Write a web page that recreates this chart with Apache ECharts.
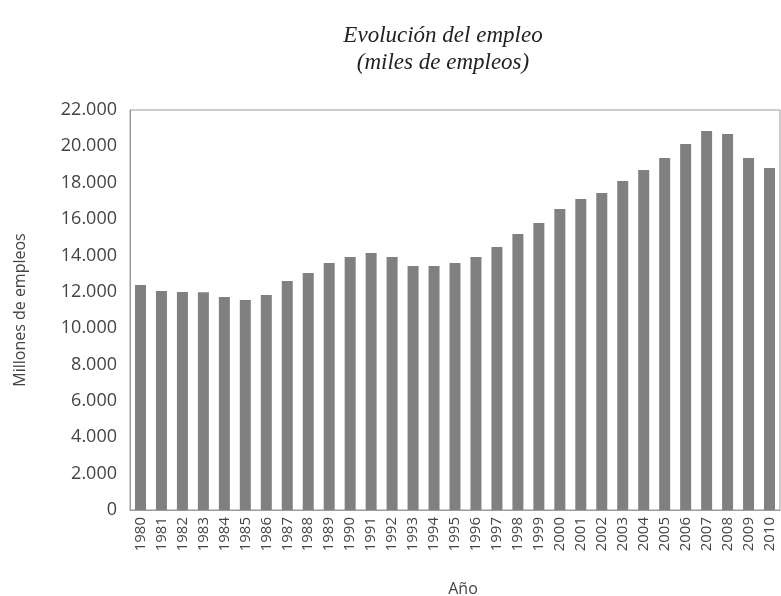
<!DOCTYPE html>
<html><head><meta charset="utf-8">
<script src="https://cdn.jsdelivr.net/npm/echarts@6/dist/echarts.min.js"></script>
<style>html,body{margin:0;padding:0;background:#fff}#c{width:781px;height:596px}</style>
</head><body><div id="c"></div>
<script>
const years = ['1980','1981','1982','1983','1984','1985','1986','1987','1988','1989','1990','1991','1992','1993','1994','1995','1996','1997','1998','1999','2000','2001','2002','2003','2004','2005','2006','2007','2008','2009','2010'];
const empleo = [12370,12040,11990,11970,11710,11550,11820,12590,13030,13580,13910,14130,13910,13420,13420,13580,13910,14460,15180,15780,16550,17100,17430,18090,18700,19360,20130,20840,20680,19360,18810];
const yTicks = {min:0, max:22000, interval:2000};
const titleLines = ['Evolución del empleo','(miles de empleos)'];

const chart = echarts.init(document.getElementById('c'), null, {renderer:'canvas'});
const sans = '"Open Sans", "Noto Sans", sans-serif';
chart.setOption({
  animation:false,
  title:{
    text: titleLines.join('\n'),
    left: 438, top: 17, textAlign:'center',
    textStyle:{fontFamily:'"Liberation Serif", serif', fontStyle:'italic', fontWeight:'normal', fontSize:23, lineHeight:27, color:'#222'}
  },
  grid:{left:130, right:1, top:110, bottom:86, show:true, borderColor:'#9a9a9a', borderWidth:1, containLabel:false, outerBoundsMode:'none'},
  xAxis:{
    type:'category', data: years,
    name:'Año', nameLocation:'middle', nameGap:71,
    nameTextStyle:{fontFamily:sans, fontSize:16, color:'#444', padding:[0,0,0,16]},
    axisLine:{lineStyle:{color:'#9a9a9a'}},
    axisTick:{show:false},
    axisLabel:{rotate:90, fontFamily:sans, fontSize:15, color:'#444', margin:7, interval:0}
  },
  yAxis:{
    type:'value', min:yTicks.min, max:yTicks.max, interval:yTicks.interval,
    name:'Millones de empleos', nameLocation:'middle', nameGap:102, nameRotate:90,
    nameTextStyle:{fontFamily:sans, fontSize:16, color:'#444'},
    axisLine:{show:true, lineStyle:{color:'#9a9a9a'}},
    axisTick:{show:false},
    splitLine:{show:false},
    axisLabel:{fontFamily:sans, fontSize:18, color:'#444', margin:13,
      formatter: v => String(v).replace(/\B(?=(\d{3})+(?!\d))/g, '.')}
  },
  series:[{type:'bar', data: empleo, barWidth:11, itemStyle:{color:'#808083'}}]
});
</script></body></html>
